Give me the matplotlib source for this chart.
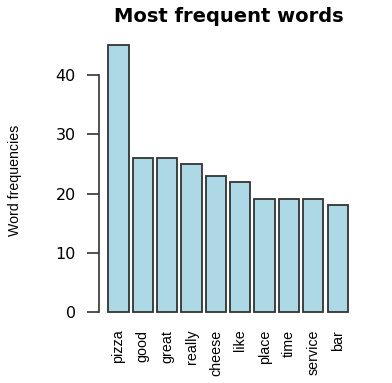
import matplotlib
matplotlib.use("Agg")
import matplotlib.pyplot as plt
import numpy as np

words = ["pizza", "good", "great", "really", "cheese", "like", "place", "time", "service", "bar"]
freqs = [45, 26, 26, 25, 23, 22, 19, 19, 19, 18]
yticks = [0, 10, 20, 30, 40]

narrow = ["Liberation Sans Narrow", "Liberation Sans", "DejaVu Sans"]

fig = plt.figure(figsize=(3.92, 3.83), dpi=100)
ax = fig.add_axes([0.2518, 0.1574, 0.66, 0.752])

# R barplot layout: width 1, space 0.2
lefts = 0.2 + 1.2 * np.arange(len(words))
centers = lefts + 0.5
ax.bar(centers, freqs, width=1.0, color="#ADD8E6", edgecolor="#333333", linewidth=1.3)

ax.set_xlim(-0.272, 12.472)
ax.set_ylim(-1.8, 46.8)

for s in ["top", "right", "bottom"]:
    ax.spines[s].set_visible(False)
ax.spines["left"].set_bounds(0, 40)
ax.spines["left"].set_color("#333333")
ax.spines["left"].set_linewidth(1.2)

ax.set_yticks(yticks)
ax.set_yticklabels([str(t) for t in yticks], fontsize=11.5, family="DejaVu Sans")
ax.tick_params(axis="y", length=8.6, width=1.2, color="#333333", pad=8)

ax.set_xticks(centers)
ax.set_xticklabels(words, rotation=90, va="top", ha="center", fontsize=10.3, family=narrow)
ax.tick_params(axis="x", length=0, pad=5)

fig.text(15 / 392, 1 - 180 / 383, "Word frequencies", rotation=90, ha="center", va="center",
         fontsize=10.2, family=narrow)
fig.text(229 / 392, 1 - 16 / 383, "Most frequent words", ha="center", va="center",
         fontsize=14, fontweight="bold", family="DejaVu Sans")

fig.savefig("out.png", dpi=100)
